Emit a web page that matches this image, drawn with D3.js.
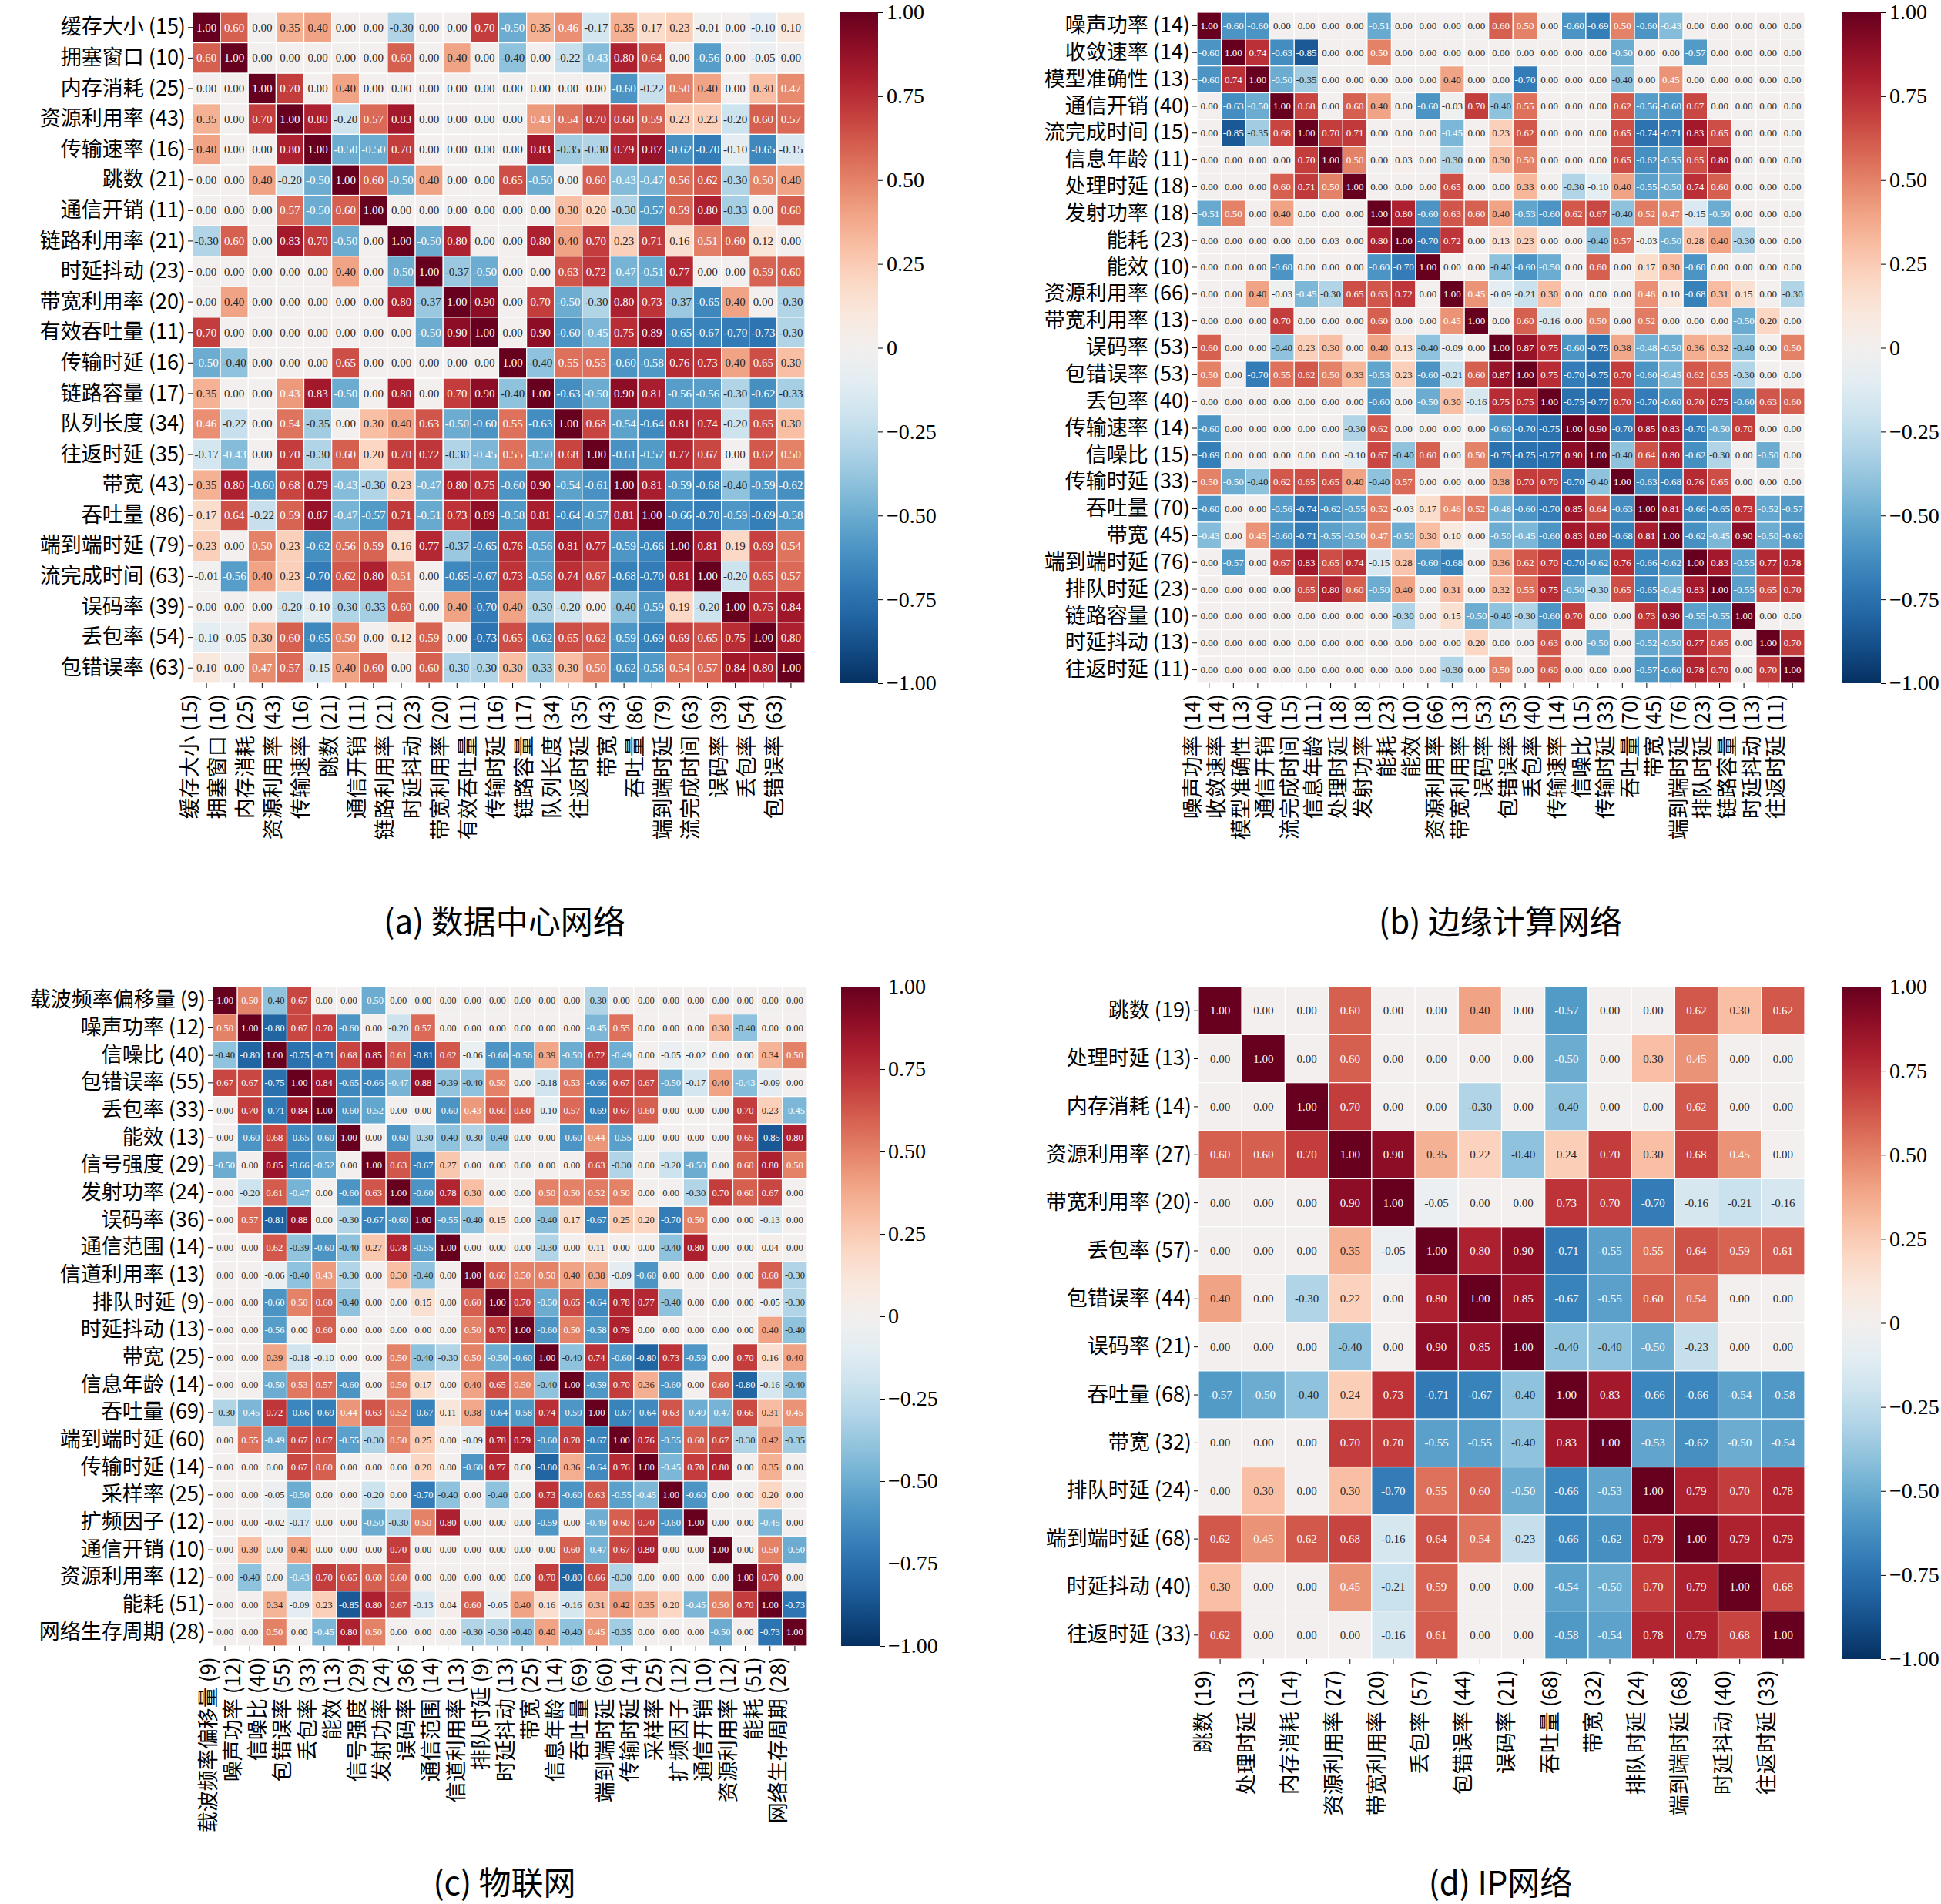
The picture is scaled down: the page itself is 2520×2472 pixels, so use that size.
<!DOCTYPE html>
<html><head><meta charset="utf-8">
<script src="https://cdn.jsdelivr.net/npm/d3@7"></script>
<style>body{margin:0;background:#fff}</style></head>
<body><svg id="c" width="2520" height="2472"></svg>
<script>
const labelsA=["缓存大小 (15)","拥塞窗口 (10)","内存消耗 (25)","资源利用率 (43)","传输速率 (16)","跳数 (21)","通信开销 (11)","链路利用率 (21)","时延抖动 (23)","带宽利用率 (20)","有效吞吐量 (11)","传输时延 (16)","链路容量 (17)","队列长度 (34)","往返时延 (35)","带宽 (43)","吞吐量 (86)","端到端时延 (79)","流完成时间 (63)","误码率 (39)","丢包率 (54)","包错误率 (63)"];
const valuesA=[
[1,0.60,0,0.35,0.40,0,0,-0.30,0,0,0.70,-0.50,0.35,0.46,-0.17,0.35,0.17,0.23,-0.01,0,-0.10,0.10],
[0.60,1,0,0,0,0,0,0.60,0,0.40,0,-0.40,0,-0.22,-0.43,0.80,0.64,0,-0.56,0,-0.05,0],
[0,0,1,0.70,0,0.40,0,0,0,0,0,0,0,0,0,-0.60,-0.22,0.50,0.40,0,0.30,0.47],
[0.35,0,0.70,1,0.80,-0.20,0.57,0.83,0,0,0,0,0.43,0.54,0.70,0.68,0.59,0.23,0.23,-0.20,0.60,0.57],
[0.40,0,0,0.80,1,-0.50,-0.50,0.70,0,0,0,0,0.83,-0.35,-0.30,0.79,0.87,-0.62,-0.70,-0.10,-0.65,-0.15],
[0,0,0.40,-0.20,-0.50,1,0.60,-0.50,0.40,0,0,0.65,-0.50,0,0.60,-0.43,-0.47,0.56,0.62,-0.30,0.50,0.40],
[0,0,0,0.57,-0.50,0.60,1,0,0,0,0,0,0,0.30,0.20,-0.30,-0.57,0.59,0.80,-0.33,0,0.60],
[-0.30,0.60,0,0.83,0.70,-0.50,0,1,-0.50,0.80,0,0,0.80,0.40,0.70,0.23,0.71,0.16,0.51,0.60,0.12,0],
[0,0,0,0,0,0.40,0,-0.50,1,-0.37,-0.50,0,0,0.63,0.72,-0.47,-0.51,0.77,0,0,0.59,0.60],
[0,0.40,0,0,0,0,0,0.80,-0.37,1,0.90,0,0.70,-0.50,-0.30,0.80,0.73,-0.37,-0.65,0.40,0,-0.30],
[0.70,0,0,0,0,0,0,0,-0.50,0.90,1,0,0.90,-0.60,-0.45,0.75,0.89,-0.65,-0.67,-0.70,-0.73,-0.30],
[-0.50,-0.40,0,0,0,0.65,0,0,0,0,0,1,-0.40,0.55,0.55,-0.60,-0.58,0.76,0.73,0.40,0.65,0.30],
[0.35,0,0,0.43,0.83,-0.50,0,0.80,0,0.70,0.90,-0.40,1,-0.63,-0.50,0.90,0.81,-0.56,-0.56,-0.30,-0.62,-0.33],
[0.46,-0.22,0,0.54,-0.35,0,0.30,0.40,0.63,-0.50,-0.60,0.55,-0.63,1,0.68,-0.54,-0.64,0.81,0.74,-0.20,0.65,0.30],
[-0.17,-0.43,0,0.70,-0.30,0.60,0.20,0.70,0.72,-0.30,-0.45,0.55,-0.50,0.68,1,-0.61,-0.57,0.77,0.67,0,0.62,0.50],
[0.35,0.80,-0.60,0.68,0.79,-0.43,-0.30,0.23,-0.47,0.80,0.75,-0.60,0.90,-0.54,-0.61,1,0.81,-0.59,-0.68,-0.40,-0.59,-0.62],
[0.17,0.64,-0.22,0.59,0.87,-0.47,-0.57,0.71,-0.51,0.73,0.89,-0.58,0.81,-0.64,-0.57,0.81,1,-0.66,-0.70,-0.59,-0.69,-0.58],
[0.23,0,0.50,0.23,-0.62,0.56,0.59,0.16,0.77,-0.37,-0.65,0.76,-0.56,0.81,0.77,-0.59,-0.66,1,0.81,0.19,0.69,0.54],
[-0.01,-0.56,0.40,0.23,-0.70,0.62,0.80,0.51,0,-0.65,-0.67,0.73,-0.56,0.74,0.67,-0.68,-0.70,0.81,1,-0.20,0.65,0.57],
[0,0,0,-0.20,-0.10,-0.30,-0.33,0.60,0,0.40,-0.70,0.40,-0.30,-0.20,0,-0.40,-0.59,0.19,-0.20,1,0.75,0.84],
[-0.10,-0.05,0.30,0.60,-0.65,0.50,0,0.12,0.59,0,-0.73,0.65,-0.62,0.65,0.62,-0.59,-0.69,0.69,0.65,0.75,1,0.80],
[0.10,0,0.47,0.57,-0.15,0.40,0.60,0,0.60,-0.30,-0.30,0.30,-0.33,0.30,0.50,-0.62,-0.58,0.54,0.57,0.84,0.80,1]];
const labelsB=["噪声功率 (14)","收敛速率 (14)","模型准确性 (13)","通信开销 (40)","流完成时间 (15)","信息年龄 (11)","处理时延 (18)","发射功率 (18)","能耗 (23)","能效 (10)","资源利用率 (66)","带宽利用率 (13)","误码率 (53)","包错误率 (53)","丢包率 (40)","传输速率 (14)","信噪比 (15)","传输时延 (33)","吞吐量 (70)","带宽 (45)","端到端时延 (76)","排队时延 (23)","链路容量 (10)","时延抖动 (13)","往返时延 (11)"];
const valuesB=[
[1,-0.60,-0.60,0,0,0,0,-0.51,0,0,0,0,0.60,0.50,0,-0.60,-0.69,0.50,-0.60,-0.43,0,0,0,0,0],
[-0.60,1,0.74,-0.63,-0.85,0,0,0.50,0,0,0,0,0,0,0,0,0,-0.50,0,0,-0.57,0,0,0,0],
[-0.60,0.74,1,-0.50,-0.35,0,0,0,0,0,0.40,0,0,-0.70,0,0,0,-0.40,0,0.45,0,0,0,0,0],
[0,-0.63,-0.50,1,0.68,0,0.60,0.40,0,-0.60,-0.03,0.70,-0.40,0.55,0,0,0,0.62,-0.56,-0.60,0.67,0,0,0,0],
[0,-0.85,-0.35,0.68,1,0.70,0.71,0,0,0,-0.45,0,0.23,0.62,0,0,0,0.65,-0.74,-0.71,0.83,0.65,0,0,0],
[0,0,0,0,0.70,1,0.50,0,0.03,0,-0.30,0,0.30,0.50,0,0,0,0.65,-0.62,-0.55,0.65,0.80,0,0,0],
[0,0,0,0.60,0.71,0.50,1,0,0,0,0.65,0,0,0.33,0,-0.30,-0.10,0.40,-0.55,-0.50,0.74,0.60,0,0,0],
[-0.51,0.50,0,0.40,0,0,0,1,0.80,-0.60,0.63,0.60,0.40,-0.53,-0.60,0.62,0.67,-0.40,0.52,0.47,-0.15,-0.50,0,0,0],
[0,0,0,0,0,0.03,0,0.80,1,-0.70,0.72,0,0.13,0.23,0,0,-0.40,0.57,-0.03,-0.50,0.28,0.40,-0.30,0,0],
[0,0,0,-0.60,0,0,0,-0.60,-0.70,1,0,0,-0.40,-0.60,-0.50,0,0.60,0,0.17,0.30,-0.60,0,0,0,0],
[0,0,0.40,-0.03,-0.45,-0.30,0.65,0.63,0.72,0,1,0.45,-0.09,-0.21,0.30,0,0,0,0.46,0.10,-0.68,0.31,0.15,0,-0.30],
[0,0,0,0.70,0,0,0,0.60,0,0,0.45,1,0,0.60,-0.16,0,0.50,0,0.52,0,0,0,-0.50,0.20,0],
[0.60,0,0,-0.40,0.23,0.30,0,0.40,0.13,-0.40,-0.09,0,1,0.87,0.75,-0.60,-0.75,0.38,-0.48,-0.50,0.36,0.32,-0.40,0,0.50],
[0.50,0,-0.70,0.55,0.62,0.50,0.33,-0.53,0.23,-0.60,-0.21,0.60,0.87,1,0.75,-0.70,-0.75,0.70,-0.60,-0.45,0.62,0.55,-0.30,0,0],
[0,0,0,0,0,0,0,-0.60,0,-0.50,0.30,-0.16,0.75,0.75,1,-0.75,-0.77,0.70,-0.70,-0.60,0.70,0.75,-0.60,0.63,0.60],
[-0.60,0,0,0,0,0,-0.30,0.62,0,0,0,0,-0.60,-0.70,-0.75,1,0.90,-0.70,0.85,0.83,-0.70,-0.50,0.70,0,0],
[-0.69,0,0,0,0,0,-0.10,0.67,-0.40,0.60,0,0.50,-0.75,-0.75,-0.77,0.90,1,-0.40,0.64,0.80,-0.62,-0.30,0,-0.50,0],
[0.50,-0.50,-0.40,0.62,0.65,0.65,0.40,-0.40,0.57,0,0,0,0.38,0.70,0.70,-0.70,-0.40,1,-0.63,-0.68,0.76,0.65,0,0,0],
[-0.60,0,0,-0.56,-0.74,-0.62,-0.55,0.52,-0.03,0.17,0.46,0.52,-0.48,-0.60,-0.70,0.85,0.64,-0.63,1,0.81,-0.66,-0.65,0.73,-0.52,-0.57],
[-0.43,0,0.45,-0.60,-0.71,-0.55,-0.50,0.47,-0.50,0.30,0.10,0,-0.50,-0.45,-0.60,0.83,0.80,-0.68,0.81,1,-0.62,-0.45,0.90,-0.50,-0.60],
[0,-0.57,0,0.67,0.83,0.65,0.74,-0.15,0.28,-0.60,-0.68,0,0.36,0.62,0.70,-0.70,-0.62,0.76,-0.66,-0.62,1,0.83,-0.55,0.77,0.78],
[0,0,0,0,0.65,0.80,0.60,-0.50,0.40,0,0.31,0,0.32,0.55,0.75,-0.50,-0.30,0.65,-0.65,-0.45,0.83,1,-0.55,0.65,0.70],
[0,0,0,0,0,0,0,0,-0.30,0,0.15,-0.50,-0.40,-0.30,-0.60,0.70,0,0,0.73,0.90,-0.55,-0.55,1,0,0],
[0,0,0,0,0,0,0,0,0,0,0,0.20,0,0,0.63,0,-0.50,0,-0.52,-0.50,0.77,0.65,0,1,0.70],
[0,0,0,0,0,0,0,0,0,0,-0.30,0,0.50,0,0.60,0,0,0,-0.57,-0.60,0.78,0.70,0,0.70,1]];
const labelsC=["载波频率偏移量 (9)","噪声功率 (12)","信噪比 (40)","包错误率 (55)","丢包率 (33)","能效 (13)","信号强度 (29)","发射功率 (24)","误码率 (36)","通信范围 (14)","信道利用率 (13)","排队时延 (9)","时延抖动 (13)","带宽 (25)","信息年龄 (14)","吞吐量 (69)","端到端时延 (60)","传输时延 (14)","采样率 (25)","扩频因子 (12)","通信开销 (10)","资源利用率 (12)","能耗 (51)","网络生存周期 (28)"];
const valuesC=[
[1,0.50,-0.40,0.67,0,0,-0.50,0,0,0,0,0, 0,0,0,-0.30,0,0,0,0,0,0,0,0],
[0.50,1,-0.80,0.67,0.70,-0.60,0,-0.20,0.57,0,0,0, 0,0,0,-0.45,0.55,0,0,0,0.30,-0.40,0,0],
[-0.40,-0.80,1,-0.75,-0.71,0.68,0.85,0.61,-0.81,0.62,-0.06,-0.60, -0.56,0.39,-0.50,0.72,-0.49,0,-0.05,-0.02,0,0,0.34,0.50],
[0.67,0.67,-0.75,1,0.84,-0.65,-0.66,-0.47,0.88,-0.39,-0.40,0.50, 0,-0.18,0.53,-0.66,0.67,0.67,-0.50,-0.17,0.40,-0.43,-0.09,0],
[0,0.70,-0.71,0.84,1,-0.60,-0.52,0,0,-0.60,0.43,0.60, 0.60,-0.10,0.57,-0.69,0.67,0.60,0,0,0,0.70,0.23,-0.45],
[0,-0.60,0.68,-0.65,-0.60,1,0,-0.60,-0.30,-0.40,-0.30,-0.40, 0,0,-0.60,0.44,-0.55,0,0,0,0,0.65,-0.85,0.80],
[-0.50,0,0.85,-0.66,-0.52,0,1,0.63,-0.67,0.27,0,0, 0,0,0,0.63,-0.30,0,-0.20,-0.50,0,0.60,0.80,0.50],
[0,-0.20,0.61,-0.47,0,-0.60,0.63,1,-0.60,0.78,0.30,0, 0,0.50,0.50,0.52,0.50,0,0,-0.30,0.70,0.60,0.67,0],
[0,0.57,-0.81,0.88,0,-0.30,-0.67,-0.60,1,-0.55,-0.40,0.15, 0,-0.40,0.17,-0.67,0.25,0.20,-0.70,0.50,0,0,-0.13,0],
[0,0,0.62,-0.39,-0.60,-0.40,0.27,0.78,-0.55,1,0,0, 0,-0.30,0,0.11,0,0,-0.40,0.80,0,0,0.04,0],
[0,0,-0.06,-0.40,0.43,-0.30,0,0.30,-0.40,0,1,0.60, 0.50,0.50,0.40,0.38,-0.09,-0.60,0,0,0,0,0.60,-0.30],
[0,0,-0.60,0.50,0.60,-0.40,0,0,0.15,0,0.60,1, 0.70,-0.50,0.65,-0.64,0.78,0.77,-0.40,0,0,0,-0.05,-0.30],
[0,0,-0.56,0,0.60,0,0,0,0,0,0.50,0.70, 1,-0.60,0.50,-0.58,0.79,0,0,0,0,0,0.40,-0.40],
[0,0,0.39,-0.18,-0.10,0,0,0.50,-0.40,-0.30,0.50,-0.50, -0.60,1,-0.40,0.74,-0.60,-0.80,0.73,-0.59,0,0.70,0.16,0.40],
[0,0,-0.50,0.53,0.57,-0.60,0,0.50,0.17,0,0.40,0.65, 0.50,-0.40,1,-0.59,0.70,0.36,-0.60,0,0.60,-0.80,-0.16,-0.40],
[-0.30,-0.45,0.72,-0.66,-0.69,0.44,0.63,0.52,-0.67,0.11,0.38,-0.64, -0.58,0.74,-0.59,1,-0.67,-0.64,0.63,-0.49,-0.47,0.66,0.31,0.45],
[0,0.55,-0.49,0.67,0.67,-0.55,-0.30,0.50,0.25,0,-0.09,0.78, 0.79,-0.60,0.70,-0.67,1,0.76,-0.55,0.60,0.67,-0.30,0.42,-0.35],
[0,0,0,0.67,0.60,0,0,0,0.20,0,-0.60,0.77, 0,-0.80,0.36,-0.64,0.76,1,-0.45,0.70,0.80,0,0.35,0],
[0,0,-0.05,-0.50,0,0,-0.20,0,-0.70,-0.40,0,-0.40, 0,0.73,-0.60,0.63,-0.55,-0.45,1,-0.60,0,0,0.20,0],
[0,0,-0.02,-0.17,0,0,-0.50,-0.30,0.50,0.80,0,0, 0,-0.59,0,-0.49,0.60,0.70,-0.60,1,0,0,-0.45,0],
[0,0.30,0,0.40,0,0,0,0.70,0,0,0,0, 0,0,0.60,-0.47,0.67,0.80,0,0,1,0,0.50,-0.50],
[0,-0.40,0,-0.43,0.70,0.65,0.60,0.60,0,0,0,0, 0,0.70,-0.80,0.66,-0.30,0,0,0,0,1,0.70,0],
[0,0,0.34,-0.09,0.23,-0.85,0.80,0.67,-0.13,0.04,0.60,-0.05, 0.40,0.16,-0.16,0.31,0.42,0.35,0.20,-0.45,0.50,0.70,1,-0.73],
[0,0,0.50,0,-0.45,0.80,0.50,0,0,0,-0.30,-0.30, -0.40,0.40,-0.40,0.45,-0.35,0,0,0,-0.50,0,-0.73,1]];
const labelsD=["跳数 (19)","处理时延 (13)","内存消耗 (14)","资源利用率 (27)","带宽利用率 (20)","丢包率 (57)","包错误率 (44)","误码率 (21)","吞吐量 (68)","带宽 (32)","排队时延 (24)","端到端时延 (68)","时延抖动 (40)","往返时延 (33)"];
const valuesD=[
[1,0,0,0.60,0,0,0.40,0,-0.57,0,0,0.62,0.30,0.62],
[0,1,0,0.60,0,0,0,0,-0.50,0,0.30,0.45,0,0],
[0,0,1,0.70,0,0,-0.30,0,-0.40,0,0,0.62,0,0],
[0.60,0.60,0.70,1,0.90,0.35,0.22,-0.40,0.24,0.70,0.30,0.68,0.45,0],
[0,0,0,0.90,1,-0.05,0,0,0.73,0.70,-0.70,-0.16,-0.21,-0.16],
[0,0,0,0.35,-0.05,1,0.80,0.90,-0.71,-0.55,0.55,0.64,0.59,0.61],
[0.40,0,-0.30,0.22,0,0.80,1,0.85,-0.67,-0.55,0.60,0.54,0,0],
[0,0,0,-0.40,0,0.90,0.85,1,-0.40,-0.40,-0.50,-0.23,0,0],
[-0.57,-0.50,-0.40,0.24,0.73,-0.71,-0.67,-0.40,1,0.83,-0.66,-0.66,-0.54,-0.58],
[0,0,0,0.70,0.70,-0.55,-0.55,-0.40,0.83,1,-0.53,-0.62,-0.50,-0.54],
[0,0.30,0,0.30,-0.70,0.55,0.60,-0.50,-0.66,-0.53,1,0.79,0.70,0.78],
[0.62,0.45,0.62,0.68,-0.16,0.64,0.54,-0.23,-0.66,-0.62,0.79,1,0.79,0.79],
[0.30,0,0,0.45,-0.21,0.59,0,0,-0.54,-0.50,0.70,0.79,1,0.68],
[0.62,0,0,0,-0.16,0.61,0,0,-0.58,-0.54,0.78,0.79,0.68,1]];
const cbarTicks=[1,0.75,0.5,0.25,0,-0.25,-0.5,-0.75,-1];
const cbarLabels=["1.00","0.75","0.50","0.25","0","\u22120.25","\u22120.50","\u22120.75","\u22121.00"];
const captions=["(a) 数据中心网络","(b) 边缘计算网络","(c) 物联网","(d) IP网络"];

const svg=d3.select("#c");
const color=v=>d3.interpolateRdBu(0.5-v/2);
const CJK="'Noto Sans CJK SC',sans-serif";
const SERIF="'Liberation Serif','DejaVu Serif',serif";

function panel(labels,vals,box,cb,fs,caption,cap){
  const g=svg.append("g");
  const x=d3.scaleBand().domain(d3.range(labels.length)).range([box.x0,box.x1]);
  const y=d3.scaleBand().domain(d3.range(labels.length)).range([box.y0,box.y1]);
  vals.forEach((row,i)=>row.forEach((v,j)=>{
    g.append("rect").attr("x",x(j)).attr("y",y(i)).attr("width",x.bandwidth()).attr("height",y.bandwidth())
     .attr("fill",color(v)).attr("stroke","#fff").attr("stroke-width",1.2);
    g.append("text").attr("x",x(j)+x.bandwidth()/2).attr("y",y(i)+y.bandwidth()/2)
     .attr("text-anchor","middle").attr("dominant-baseline","central")
     .attr("font-family",SERIF).attr("font-size",fs)
     .attr("fill",Math.abs(v)>0.42?"#fff":"#262626").text(v.toFixed(2));
  }));
  const ya=g.append("g").attr("transform",`translate(${box.x0},0)`).call(d3.axisLeft(y).tickSize(6).tickFormat(i=>labels[i]));
  ya.select(".domain").remove();
  ya.selectAll("text").attr("font-family",CJK).attr("font-size",27).attr("fill","#000");
  const xa=g.append("g").attr("transform",`translate(0,${box.y1})`).call(d3.axisBottom(x).tickSize(6).tickFormat(i=>labels[i]));
  xa.select(".domain").remove();
  xa.selectAll("text").attr("font-family",CJK).attr("font-size",27).attr("fill","#000")
    .attr("transform","rotate(-90)").attr("text-anchor","end").attr("dx","-10").attr("dy","-0.45em").attr("y",0).attr("x",-4);
  const cy=d3.scaleLinear().domain([1,-1]).range([box.y0,box.y1]);
  const gid="grad"+Math.random().toString(36).slice(2);
  const grad=svg.append("defs").append("linearGradient").attr("id",gid).attr("x1",0).attr("y1",0).attr("x2",0).attr("y2",1);
  d3.range(0,1.0001,0.05).forEach(t=>grad.append("stop").attr("offset",t).attr("stop-color",color(1-2*t)));
  g.append("rect").attr("x",cb).attr("y",box.y0).attr("width",50).attr("height",box.y1-box.y0).attr("fill",`url(#${gid})`);
  const ca=g.append("g").attr("transform",`translate(${cb+50},0)`).call(d3.axisRight(cy).tickValues(cbarTicks).tickSize(7).tickPadding(4).tickFormat((d,i)=>cbarLabels[i]));
  ca.select(".domain").remove();
  ca.selectAll("text").attr("font-family",SERIF).attr("font-size",28).attr("fill","#000");
  g.append("text").attr("x",cap[0]).attr("y",cap[1]).attr("text-anchor","middle").attr("font-family",CJK)
   .attr("font-size",42).text(caption);
}
panel(labelsA,valuesA,{x0:250,x1:1045,y0:16,y1:887},1090,15,captions[0],[655,1212]);
panel(labelsB,valuesB,{x0:1554,x1:2343,y0:16,y1:887},2392,13,captions[1],[1948,1212]);
panel(labelsC,valuesC,{x0:276,x1:1048,y0:1281,y1:2137},1092,12.5,captions[2],[655,2460]);
panel(labelsD,valuesD,{x0:1556,x1:2343,y0:1281,y1:2154},2392,15,captions[3],[1948,2460]);
</script></body></html>
